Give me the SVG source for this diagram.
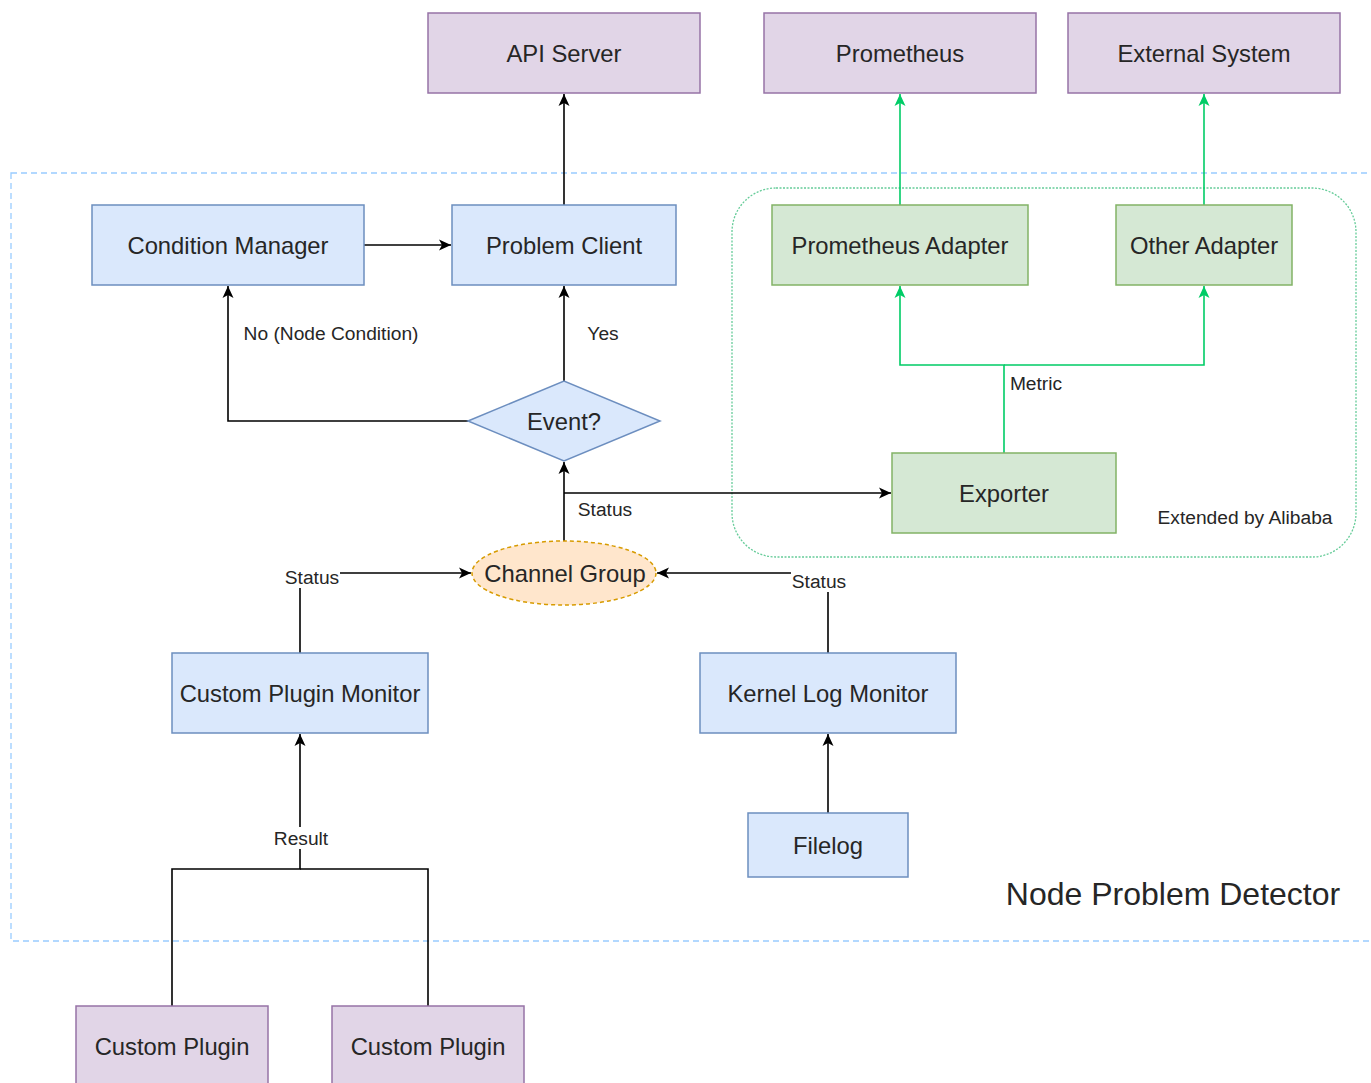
<svg xmlns="http://www.w3.org/2000/svg" width="1371" height="1083" viewBox="0 0 1371 1083">
<style>
text{font-family:"Liberation Sans",Arial,sans-serif;fill:#262626;text-anchor:middle;dominant-baseline:central}
.t{font-size:23.8px}
.l{font-size:19.2px}
.purple{fill:#e1d5e7;stroke:#9673a6;stroke-width:1.5}
.blue{fill:#dae8fc;stroke:#6c8ebf;stroke-width:1.5}
.green{fill:#d5e8d4;stroke:#82b366;stroke-width:1.5}
.c{fill:none;stroke:#000;stroke-width:1.6}
.g{fill:none;stroke:#00cc66;stroke-width:1.6}
.lb{fill:#fff}
</style>
<defs>
<marker id="ab" viewBox="0 0 14 14" refX="13" refY="7" markerWidth="14" markerHeight="14" markerUnits="userSpaceOnUse" orient="auto">
<path d="M1,1.5 L13,7 L1,12.5 L4,7 Z" fill="#000"/>
</marker>
<marker id="ag" viewBox="0 0 14 14" refX="13" refY="7" markerWidth="14" markerHeight="14" markerUnits="userSpaceOnUse" orient="auto">
<path d="M1,1.5 L13,7 L1,12.5 L4,7 Z" fill="#00cc66"/>
</marker>
</defs>
<rect width="1371" height="1083" fill="#fff"/>
<g id="npd-container">
<rect x="11" y="173" width="1380" height="768" fill="none" stroke="#99ccff" stroke-width="1.3" stroke-dasharray="6 4"/>
<text x="1173" y="894" style="font-size:32px">Node Problem Detector</text>
</g>
<g id="alibaba-container">
<rect x="732" y="188" width="624" height="369" rx="44" fill="none" stroke="#66cc99" stroke-width="1.3" stroke-dasharray="2 1.5"/>
<text x="1245" y="517" class="l">Extended by Alibaba</text>
</g>
<g id="connectors">
<path class="c" d="M564,205 L564,94" marker-end="url(#ab)"/>
<path class="c" d="M364,245 L451,245" marker-end="url(#ab)"/>
<path class="c" d="M564,381 L564,286" marker-end="url(#ab)"/>
<path class="c" d="M468,421 L228,421 L228,286" marker-end="url(#ab)"/>
<path class="c" d="M564,541 L564,462" marker-end="url(#ab)"/>
<path class="c" d="M564,493 L891,493" marker-end="url(#ab)"/>
<path class="c" d="M300,653 L300,573 L471,573" marker-end="url(#ab)"/>
<path class="c" d="M828,653 L828,573 L657,573" marker-end="url(#ab)"/>
<path class="c" d="M828,813 L828,734" marker-end="url(#ab)"/>
<path class="c" d="M172,1006 L172,869 L300,869 L300,734" marker-end="url(#ab)"/>
<path class="c" d="M428,1006 L428,869 L300,869"/>
<path class="g" d="M1004,453 L1004,365 L900,365 L900,286" marker-end="url(#ag)"/>
<path class="g" d="M1004,365 L1204,365 L1204,286" marker-end="url(#ag)"/>
<path class="g" d="M900,205 L900,94" marker-end="url(#ag)"/>
<path class="g" d="M1204,205 L1204,94" marker-end="url(#ag)"/>
<rect class="lb" x="241" y="322" width="181" height="22"/>
<text x="331" y="333" class="l">No (Node Condition)</text>
<rect class="lb" x="586" y="322" width="34" height="22"/>
<text x="603" y="333" class="l">Yes</text>
<rect class="lb" x="577" y="498" width="56" height="22"/>
<text x="605" y="509" class="l">Status</text>
<rect class="lb" x="284" y="566" width="56" height="22"/>
<text x="312" y="577" class="l">Status</text>
<rect class="lb" x="791" y="570" width="56" height="22"/>
<text x="819" y="581" class="l">Status</text>
<rect class="lb" x="272" y="827" width="58" height="22"/>
<text x="301" y="838" class="l">Result</text>
<rect class="lb" x="1008" y="372" width="58" height="22"/>
<text x="1036" y="383" class="l">Metric</text>
</g>
<g id="api-server"><rect class="purple" x="428" y="13" width="272" height="80"/><text x="564" y="53" class="t">API Server</text></g>
<g id="prometheus"><rect class="purple" x="764" y="13" width="272" height="80"/><text x="900" y="53" class="t">Prometheus</text></g>
<g id="external-system"><rect class="purple" x="1068" y="13" width="272" height="80"/><text x="1204" y="53" class="t">External System</text></g>
<g id="condition-manager"><rect class="blue" x="92" y="205" width="272" height="80"/><text x="228" y="245" class="t">Condition Manager</text></g>
<g id="problem-client"><rect class="blue" x="452" y="205" width="224" height="80"/><text x="564" y="245" class="t">Problem Client</text></g>
<g id="prometheus-adapter"><rect class="green" x="772" y="205" width="256" height="80"/><text x="900" y="245" class="t">Prometheus Adapter</text></g>
<g id="other-adapter"><rect class="green" x="1116" y="205" width="176" height="80"/><text x="1204" y="245" class="t">Other Adapter</text></g>
<g id="event"><path d="M468,421 L564,381 L660,421 L564,461 Z" class="blue"/><text x="564" y="421" class="t">Event?</text></g>
<g id="exporter"><rect class="green" x="892" y="453" width="224" height="80"/><text x="1004" y="493" class="t">Exporter</text></g>
<g id="channel-group"><ellipse cx="564" cy="573" rx="92" ry="32" fill="#ffe6cc" stroke="#d79b00" stroke-width="1.5" stroke-dasharray="4 3"/><text x="565" y="573" class="t">Channel Group</text></g>
<g id="custom-plugin-monitor"><rect class="blue" x="172" y="653" width="256" height="80"/><text x="300" y="693" class="t">Custom Plugin Monitor</text></g>
<g id="kernel-log-monitor"><rect class="blue" x="700" y="653" width="256" height="80"/><text x="828" y="693" class="t">Kernel Log Monitor</text></g>
<g id="filelog"><rect class="blue" x="748" y="813" width="160" height="64"/><text x="828" y="845" class="t">Filelog</text></g>
<g id="custom-plugin-1"><rect class="purple" x="76" y="1006" width="192" height="80"/><text x="172" y="1046" class="t">Custom Plugin</text></g>
<g id="custom-plugin-2"><rect class="purple" x="332" y="1006" width="192" height="80"/><text x="428" y="1046" class="t">Custom Plugin</text></g>
</svg>
